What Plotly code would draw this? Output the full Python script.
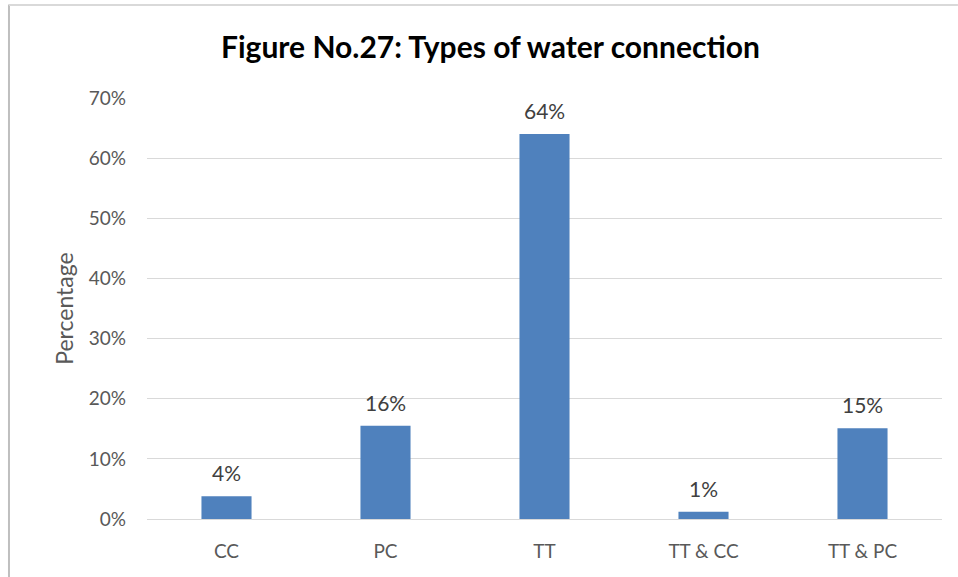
import plotly.graph_objects as go

categories = ["CC", "PC", "TT", "TT & CC", "TT & PC"]
values = [3.8, 15.5, 64.0, 1.2, 15.1]
labels = ["4%", "16%", "64%", "1%", "15%"]
tick_vals = [0, 10, 20, 30, 40, 50, 60, 70]
tick_text = ["0%", "10%", "20%", "30%", "40%", "50%", "60%", "70%"]

FONT = "Lato, Carlito, Calibri, sans-serif"

fig = go.Figure(go.Bar(
    x=categories, y=values,
    marker=dict(color="#4F81BD", line=dict(width=0)),
))

for c, v, t in zip(categories, values, labels):
    fig.add_annotation(x=c, y=v, text=t, showarrow=False, yanchor="bottom",
                       yshift=9, font=dict(size=21, color="#404040", family=FONT))

fig.update_layout(
    width=958, height=577,
    margin=dict(l=147, r=16, t=98, b=58),
    paper_bgcolor="white", plot_bgcolor="white",
    bargap=0.685,
    showlegend=False,
    title=dict(text="<b>Figure No.27: Types of water connection</b>",
               x=0.432, xanchor="center", y=0.918, yanchor="middle",
               xref="paper",
               font=dict(size=30, color="#000000", family=FONT)),
    font=dict(family=FONT),
)
fig.update_yaxes(
    range=[0, 70], tickvals=tick_vals, ticktext=tick_text,
    showgrid=True, gridcolor="#D9D9D9", gridwidth=1,
    zeroline=False, showline=False, ticks="",
    tickfont=dict(size=19, color="#595959", family=FONT),
    ticklabelstandoff=20,
    title=dict(text="Percentage", font=dict(size=23, color="#595959", family=FONT), standoff=8),
)
fig.update_xaxes(
    showline=True, linecolor="#D9D9D9", linewidth=1, ticks="",
    tickfont=dict(size=19, color="#595959", family=FONT),
    ticklabelstandoff=15,
)
# outer frame lines (left and top) visible in the reference
fig.add_shape(type="line", xref="paper", yref="paper", x0=-0.1736, x1=-0.1736, y0=-0.14, y1=1.222,
              line=dict(color="#BFBFBF", width=2))
fig.add_shape(type="line", xref="paper", yref="paper", x0=-0.1736, x1=1.02, y0=1.2209, y1=1.2209,
              line=dict(color="#D9D9D9", width=2))

fig.write_html("out.html", config={"displayModeBar": False},
               post_script="document.body.style.margin='0';")
